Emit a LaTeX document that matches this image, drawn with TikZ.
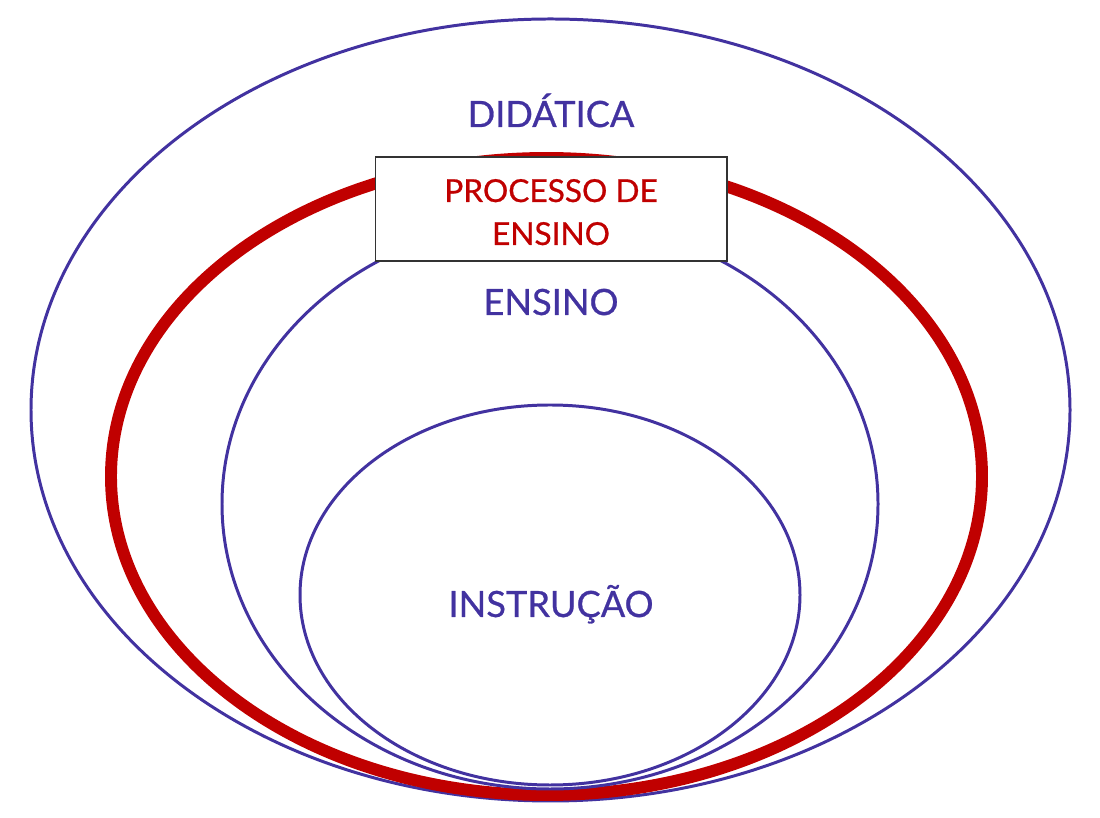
\documentclass[tikz,border=0pt]{standalone}
\usepackage{fontspec}
\setmainfont{Lato}
\newfontfamily\ringfont{Lato}[UprightFeatures={FakeBold=0.7}]
\usepackage{tikz}

\definecolor{ringblue}{RGB}{66,50,160}
\definecolor{ringred}{RGB}{192,0,0}

\tikzset{
    ring/.style={draw=ringblue, line width=0.85pt},
    label/.style={text=ringblue, font=\ringfont\fontsize{10.3}{12}\selectfont, anchor=base, inner sep=0pt}
}

\begin{document}
\begin{tikzpicture}
    \useasboundingbox (0,0) rectangle (11,8.17);

    % Didatica
    \draw[ring] (5.505,4.07) ellipse [x radius=5.195cm, y radius=3.91cm];
    \node[label] (didatica) at (5.51,6.90) {DIDÁTICA};

    % Processo de ensino
    \draw[draw=ringred, line width=3.4pt] (5.465,3.405) ellipse [x radius=4.355cm, y radius=3.185cm];

    % Ensino
    \draw[ring] (5.50,3.13) ellipse [x radius=3.28cm, y radius=2.85cm];
    \node[label] (ensino) at (5.51,5.02) {ENSINO};

    % Instrucao
    \draw[ring] (5.50,2.22) ellipse [x radius=2.50cm, y radius=1.90cm];
    \node[label] (instrucao) at (5.51,2.00) {INSTRUÇÃO};

    % Box
    \node[draw=black!80, line width=0.45pt, fill=white, minimum width=3.515cm, minimum height=1.04cm,
          inner sep=0pt] (processo) at (5.5125,6.08) {};
    \node[label, text=ringred, font=\ringfont\fontsize{9}{12.2}\selectfont] (processotext) at (5.51,6.15) {PROCESSO DE};
    \node[label, text=ringred, font=\ringfont\fontsize{9}{12.2}\selectfont] (ensinotext) at (5.51,5.72) {ENSINO};
\end{tikzpicture}
\end{document}
